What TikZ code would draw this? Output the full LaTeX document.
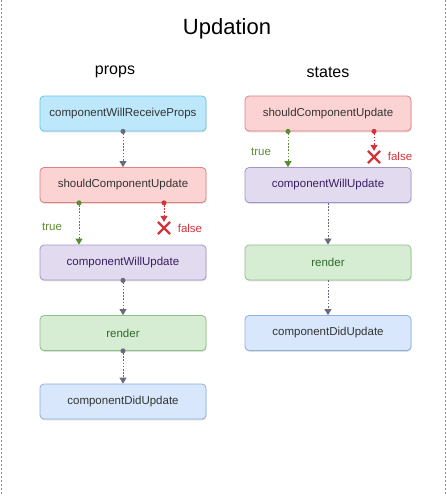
\documentclass[tikz,border=0pt]{standalone}
\usepackage{fontspec}
\setmainfont{Liberation Sans}
\usetikzlibrary{shapes.misc,shadows,arrows.meta}
\definecolor{cyanfill}{HTML}{BDE8FB}
\definecolor{cyanline}{HTML}{6CC4E8}
\definecolor{redfill}{HTML}{FCD3D3}
\definecolor{redline}{HTML}{E08080}
\definecolor{purplefill}{HTML}{E2DAEE}
\definecolor{purpleline}{HTML}{A595C6}
\definecolor{purpletext}{HTML}{3A1E63}
\definecolor{greenfill}{HTML}{D6EDD3}
\definecolor{greenline}{HTML}{8DC286}
\definecolor{greentext}{HTML}{2F6A2B}
\definecolor{bluefill}{HTML}{D8E7FB}
\definecolor{blueline}{HTML}{8DB0E2}
\definecolor{arrowgray}{HTML}{676B7C}
\definecolor{truecol}{HTML}{5B8C2F}
\definecolor{falsecol}{HTML}{D2343B}
\definecolor{bordercol}{HTML}{8E9A5A}
\begin{document}
\begin{tikzpicture}[x=1pt,y=-1pt,
    box/.style={rectangle,rounded corners=4pt,minimum width=166pt,minimum height=35pt,
        line width=0.8pt,text=black!80,font=\fontsize{11.5}{14}\selectfont,
        drop shadow={shadow xshift=0.5pt,shadow yshift=-1.3pt,opacity=0.25}},
    willrecv/.style={box,fill=cyanfill,draw=cyanline},
    should/.style={box,fill=redfill,draw=redline},
    willupd/.style={box,fill=purplefill,draw=purpleline,text=purpletext},
    rend/.style={box,fill=greenfill,draw=greenline,text=greentext},
    didupd/.style={box,fill=bluefill,draw=blueline},
    flow/.style={line width=0.9pt,dash pattern=on 1.6pt off 1.6pt,shorten <=-2.5pt,
        {Circle[length=5pt,sep=0pt]}-{Triangle[width=7pt,length=6pt]}},
    next/.style={flow,draw=arrowgray},
    plain/.style={line width=0.9pt,draw=arrowgray,dash pattern=on 1.6pt off 1.6pt,
        -{Triangle[width=7pt,length=6pt]}},
    yes/.style={flow,draw=truecol},
    no/.style={flow,draw=falsecol},
    xmark/.style={cross out,draw=falsecol,line width=2.2pt,minimum size=10pt,inner sep=0pt},
    truetxt/.style={text=truecol,font=\fontsize{11.5}{14}\selectfont},
    falsetxt/.style={text=falsecol,font=\fontsize{11.5}{14}\selectfont},
    head/.style={font=\fontsize{16}{19}\selectfont}]
    \useasboundingbox(0,0)rectangle(447,496);
    \draw[bordercol,line width=0.8pt,dash pattern=on 2pt off 2pt](1,0)--(1,496);
    \draw[bordercol,line width=0.8pt,dash pattern=on 2pt off 2pt](445.5,0)--(445.5,496);
    \node(title)at(227,29)[font=\fontsize{22}{26}\selectfont]{Updation};
    \node(props)at(115,72)[head]{props};
    \node(states)at(328,72)[head]{states};
    % props column
    \node(p1)at(123,113.5)[willrecv]{componentWillReceiveProps};
    \node(p2)at(123,185)[should]{shouldComponentUpdate};
    \node(p3)at(123,262.5)[willupd]{componentWillUpdate};
    \node(p4)at(123,333)[rend]{render};
    \node(p5)at(123,401.5)[didupd]{componentDidUpdate};
    \draw[next](p1)--(p2);
    \draw[yes]([xshift=-44pt]p2.south)--([xshift=-44pt]p3.north);
    \node(px)at(164,228)[xmark]{};
    \draw[no]([xshift=41pt]p2.south)--(px.north);
    \node(pt)at(52,226.5)[truetxt]{true};
    \node(pf)at(190,228)[falsetxt]{false};
    \draw[next](p3)--(p4);
    \draw[next](p4)--(p5);
    % states column
    \node(s1)at(328,113.5)[should]{shouldComponentUpdate};
    \node(s2)at(328,185)[willupd]{componentWillUpdate};
    \node(s3)at(328,262.5)[rend]{render};
    \node(s4)at(328,333)[didupd]{componentDidUpdate};
    \draw[yes]([xshift=-40pt]s1.south)--([xshift=-40pt]s2.north);
    \node(sx)at(374,157)[xmark]{};
    \draw[no]([xshift=46pt]s1.south)--(sx.north);
    \node(st)at(261,152)[truetxt]{true};
    \node(sf)at(400,156)[falsetxt]{false};
    \draw[plain](s2)--(s3);
    \draw[plain](s3)--(s4);
\end{tikzpicture}
\end{document}
